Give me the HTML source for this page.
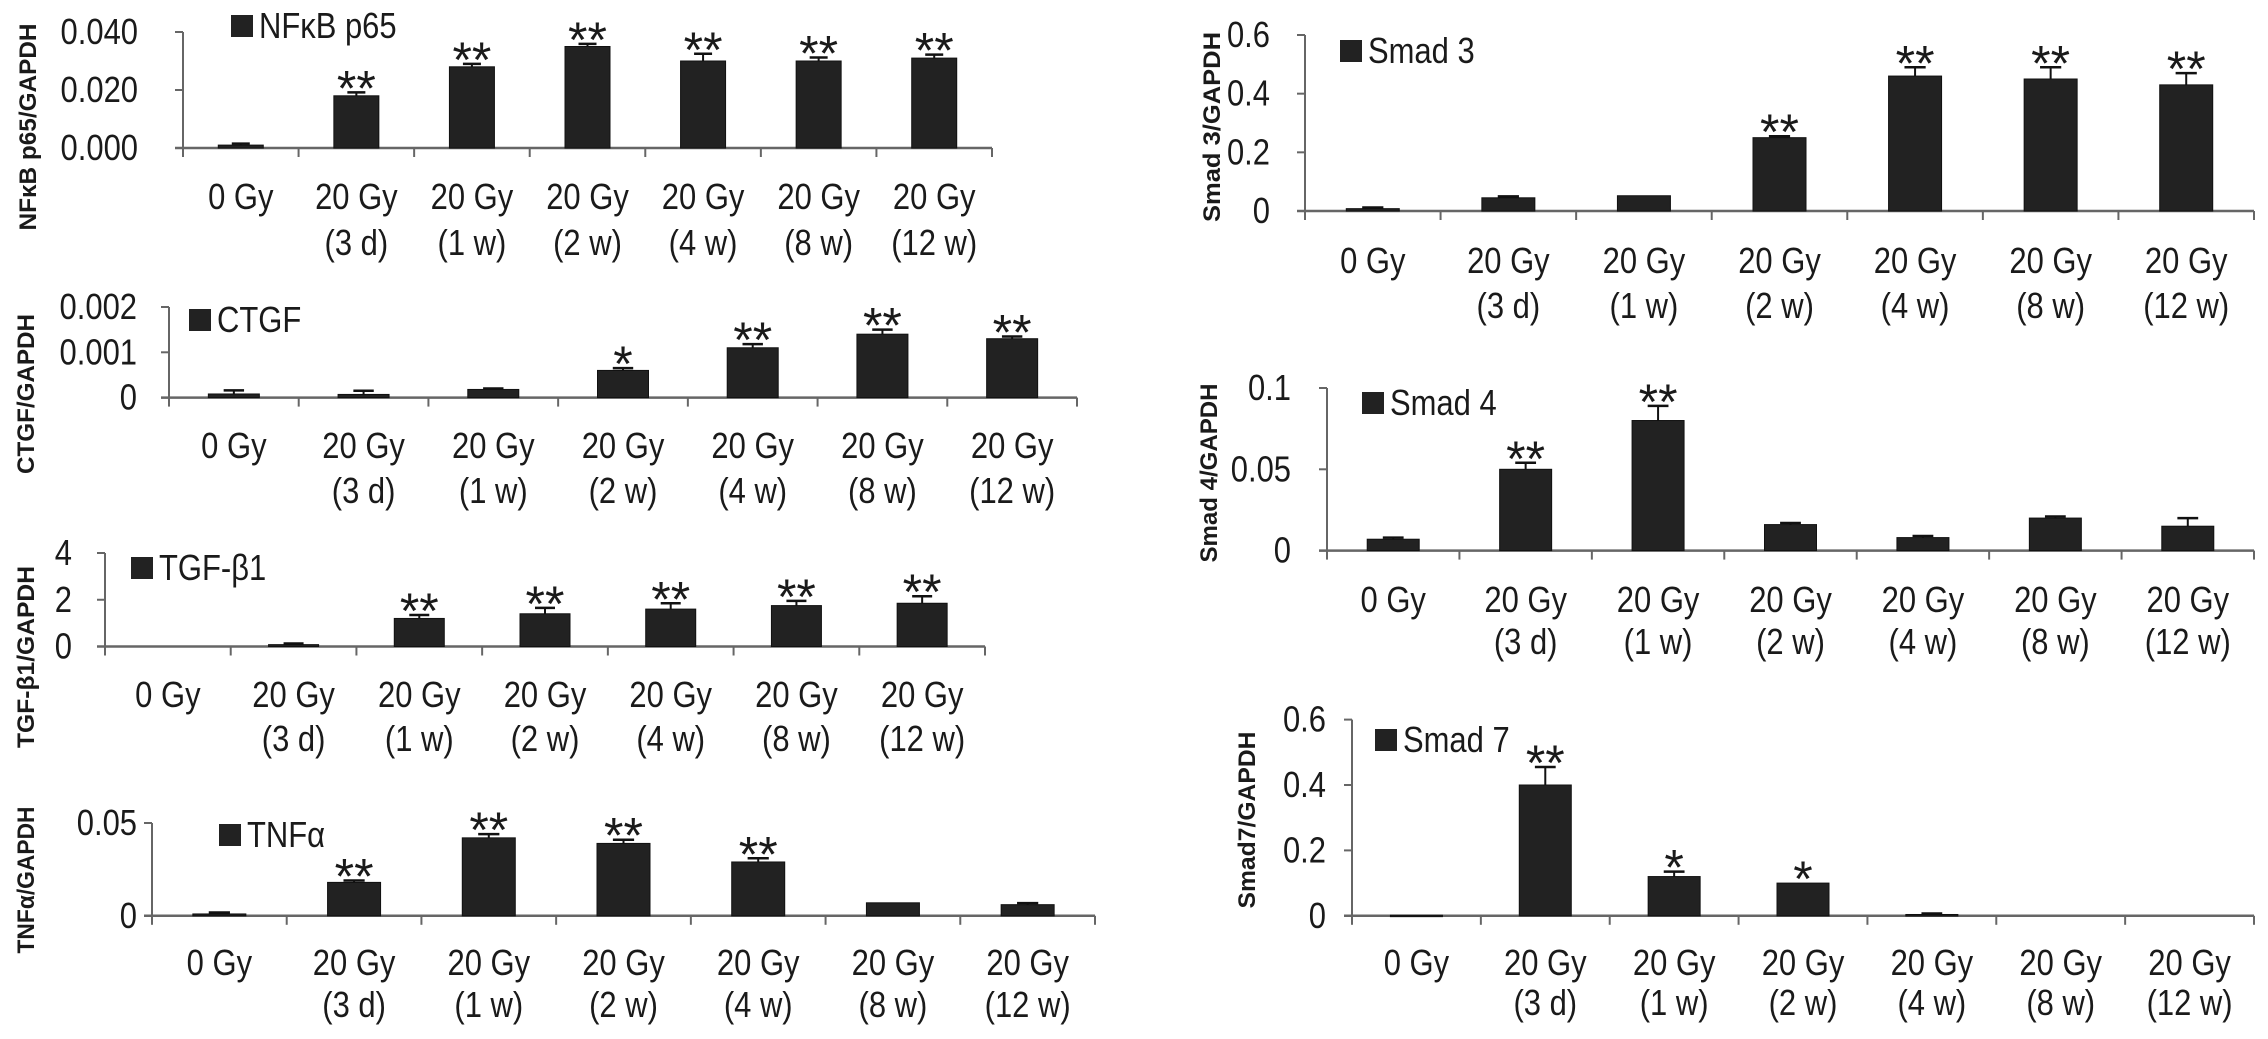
<!DOCTYPE html>
<html><head><meta charset="utf-8"><style>
html,body{margin:0;padding:0;background:#fff}
svg{display:block}
text{font-family:"Liberation Sans",sans-serif;fill:#1a1a1a}
</style></head><body>
<svg id="fig" width="2268" height="1039" viewBox="0 0 2268 1039" xmlns="http://www.w3.org/2000/svg"></svg>
<script>
const catLine1 = ["0 Gy","20 Gy","20 Gy","20 Gy","20 Gy","20 Gy","20 Gy"];
const catLine2 = ["","(3 d)","(1 w)","(2 w)","(4 w)","(8 w)","(12 w)"];

const nfkbValues = [0.001,0.018,0.028,0.035,0.030,0.030,0.031];
const nfkbErrors = [0.0005,0.0012,0.001,0.0009,0.0025,0.0012,0.0012];
const nfkbSig = ["","**","**","**","**","**","**"];
const nfkbTicks = [0,0.02,0.04];
const nfkbTickLabels = ["0.000","0.020","0.040"];

const ctgfValues = [0.00008,0.00007,0.00018,0.0006,0.0011,0.0014,0.0013];
const ctgfErrors = [0.00008,0.00008,0.00002,0.00005,0.00008,0.0001,0.00005];
const ctgfSig = ["","","","*","**","**","**"];
const ctgfTicks = [0,0.001,0.002];
const ctgfTickLabels = ["0","0.001","0.002"];

const tgfValues = [0,0.08,1.2,1.4,1.6,1.75,1.85];
const tgfErrors = [0,0.05,0.15,0.25,0.25,0.2,0.3];
const tgfSig = ["","","**","**","**","**","**"];
const tgfTicks = [0,2,4];
const tgfTickLabels = ["0","2","4"];

const tnfValues = [0.001,0.018,0.042,0.039,0.029,0.007,0.006];
const tnfErrors = [0.0008,0.001,0.002,0.002,0.002,0,0.0008];
const tnfSig = ["","**","**","**","**","",""];
const tnfTicks = [0,0.05];
const tnfTickLabels = ["0","0.05"];

const smad3Values = [0.008,0.045,0.052,0.25,0.46,0.45,0.43];
const smad3Errors = [0.004,0.005,0,0.005,0.03,0.04,0.04];
const smad3Sig = ["","","","**","**","**","**"];
const smad3Ticks = [0,0.2,0.4,0.6];
const smad3TickLabels = ["0","0.2","0.4","0.6"];

const smad4Values = [0.007,0.05,0.08,0.016,0.008,0.02,0.015];
const smad4Errors = [0.001,0.004,0.009,0.001,0.001,0.001,0.005];
const smad4Sig = ["","**","**","","","",""];
const smad4Ticks = [0,0.05,0.1];
const smad4TickLabels = ["0","0.05","0.1"];

const smad7Values = [0.002,0.40,0.12,0.10,0.004,0,0];
const smad7Errors = [0,0.055,0.015,0,0.003,0,0];
const smad7Sig = ["","**","*","*","","",""];
const smad7Ticks = [0,0.2,0.4,0.6];
const smad7TickLabels = ["0","0.2","0.4","0.6"];

const NS="http://www.w3.org/2000/svg";
const svg=document.getElementById('fig');
function mk(tag,attrs,parent){const e=document.createElementNS(NS,tag);for(const k in attrs)e.setAttribute(k,attrs[k]);(parent||svg).appendChild(e);return e;}
function ctext(x,y,anchor,size,parent){return mk('text',{x:0,y:0,'text-anchor':anchor,'font-size':size,transform:`translate(${x},${y}) scale(0.86,1)`},parent);}

function panel(p){
  const g=mk('g',{});
  
  
  const sp=(p.ax1-p.ax0)/7;
  const yS=v=>p.base-(v/p.max)*(p.base-p.top);
  const xC=i=>p.ax0+(i+0.5)*sp;
  const ya=mk('line',{x1:p.ax0,y1:p.top,x2:p.ax0,y2:p.base,stroke:'#666','stroke-width':2},g);
  
  
  const xa=mk('line',{x1:p.ax0-8,y1:p.base,x2:p.ax1,y2:p.base,stroke:'#666','stroke-width':2.5},g);
  
  
  for(let i=0;i<=7;i++){const x=p.ax0+i*sp;mk('line',{x1:x,y1:p.base,x2:x,y2:p.base+9,stroke:'#666','stroke-width':2},g);}
  p.ticks.forEach((t,k)=>{
    const y=yS(t);
    mk('line',{x1:p.ax0-8,y1:y,x2:p.ax0,y2:y,stroke:'#666','stroke-width':2},g);
    const tl=ctext(p.labR,y+12,'end',36,g);
    tl.textContent=p.tickLabels[k];
    
    
  });
  p.values.forEach((v,i)=>{
    const x=xC(i), y=yS(v);
    if(v>0){
      const b=mk('rect',{x:x-p.bw/2,y:y,width:p.bw,height:Math.max(p.base-y,1.5),fill:'#222',stroke:'#111','stroke-width':1},g);
      
      
    }
    const e=p.errors[i];
    const ye=yS(v+e);
    if(e>0){
      mk('line',{x1:x,y1:y,x2:x,y2:ye,stroke:'#111','stroke-width':2},g);
      mk('line',{x1:x-p.bw*0.2,y1:ye,x2:x+p.bw*0.2,y2:ye,stroke:'#111','stroke-width':2.5},g);
    }
    if(p.sig[i]){
      const s=mk('text',{x:x,y:ye+13,'text-anchor':'middle','font-size':50},g);
      s.textContent=p.sig[i];
      
      
    }
    const l1=ctext(x,p.l1+1,'middle',36,g);
    l1.textContent=catLine1[i];
    
    
    if(catLine2[i]){
      const l2=ctext(x,p.l2+1,'middle',36,g);
      l2.textContent=catLine2[i];
      
      
    }
  });
  const lg=mk('rect',{x:p.lx,y:p.ly,width:22,height:22,fill:'#222'},g);
  
  
  const lt=ctext(p.lx+28,p.ly+23,'start',36,g);
  lt.textContent=p.legend;
  
  
  const tt=mk('text',{x:0,y:0,'text-anchor':'middle','font-size':24,'font-weight':'bold',transform:`translate(${p.tx+9},${p.ty}) rotate(-90)`,textLength:p.tl,lengthAdjust:'spacingAndGlyphs'},g);
  tt.textContent=p.title;
  
  
}

panel({id:'nfkb',ax0:183,ax1:992,base:148,top:32,max:0.04,bw:45,labR:138,l1:208,l2:254,lx:231,ly:15,legend:'NFκB p65',tx:27,ty:127,tl:207,title:'NFκB p65/GAPDH',values:nfkbValues,errors:nfkbErrors,sig:nfkbSig,ticks:nfkbTicks,tickLabels:nfkbTickLabels});
panel({id:'ctgf',ax0:169,ax1:1077,base:397.6,top:307,max:0.002,bw:51,labR:137,l1:457,l2:502,lx:189,ly:309,legend:'CTGF',tx:25,ty:394,tl:160,title:'CTGF/GAPDH',values:ctgfValues,errors:ctgfErrors,sig:ctgfSig,ticks:ctgfTicks,tickLabels:ctgfTickLabels});
panel({id:'tgfb1',ax0:105,ax1:985,base:646.5,top:553,max:4,bw:50,labR:72,l1:706,l2:750,lx:131,ly:557,legend:'TGF-β1',tx:25,ty:657,tl:182,title:'TGF-β1/GAPDH',values:tgfValues,errors:tgfErrors,sig:tgfSig,ticks:tgfTicks,tickLabels:tgfTickLabels});
panel({id:'tnfa',ax0:152,ax1:1095,base:915.8,top:823,max:0.05,bw:53,labR:137,l1:974,l2:1016,lx:219,ly:824,legend:'TNFα',tx:25,ty:880,tl:147,title:'TNFα/GAPDH',values:tnfValues,errors:tnfErrors,sig:tnfSig,ticks:tnfTicks,tickLabels:tnfTickLabels});
panel({id:'smad3',ax0:1305,ax1:2254,base:211,top:35,max:0.6,bw:53,labR:1270,l1:272,l2:317,lx:1340,ly:40,legend:'Smad 3',tx:1211,ty:127,tl:190,title:'Smad 3/GAPDH',values:smad3Values,errors:smad3Errors,sig:smad3Sig,ticks:smad3Ticks,tickLabels:smad3TickLabels});
panel({id:'smad4',ax0:1327,ax1:2254,base:550.6,top:388,max:0.1,bw:52,labR:1291,l1:611,l2:653,lx:1362,ly:392,legend:'Smad 4',tx:1208,ty:473,tl:179,title:'Smad 4/GAPDH',values:smad4Values,errors:smad4Errors,sig:smad4Sig,ticks:smad4Ticks,tickLabels:smad4TickLabels});
panel({id:'smad7',ax0:1352,ax1:2254,base:915.8,top:719.6,max:0.6,bw:52,labR:1326,l1:974,l2:1014,lx:1375,ly:729,legend:'Smad 7',tx:1246,ty:820,tl:177,title:'Smad7/GAPDH',values:smad7Values,errors:smad7Errors,sig:smad7Sig,ticks:smad7Ticks,tickLabels:smad7TickLabels});
</script>
</body></html>
